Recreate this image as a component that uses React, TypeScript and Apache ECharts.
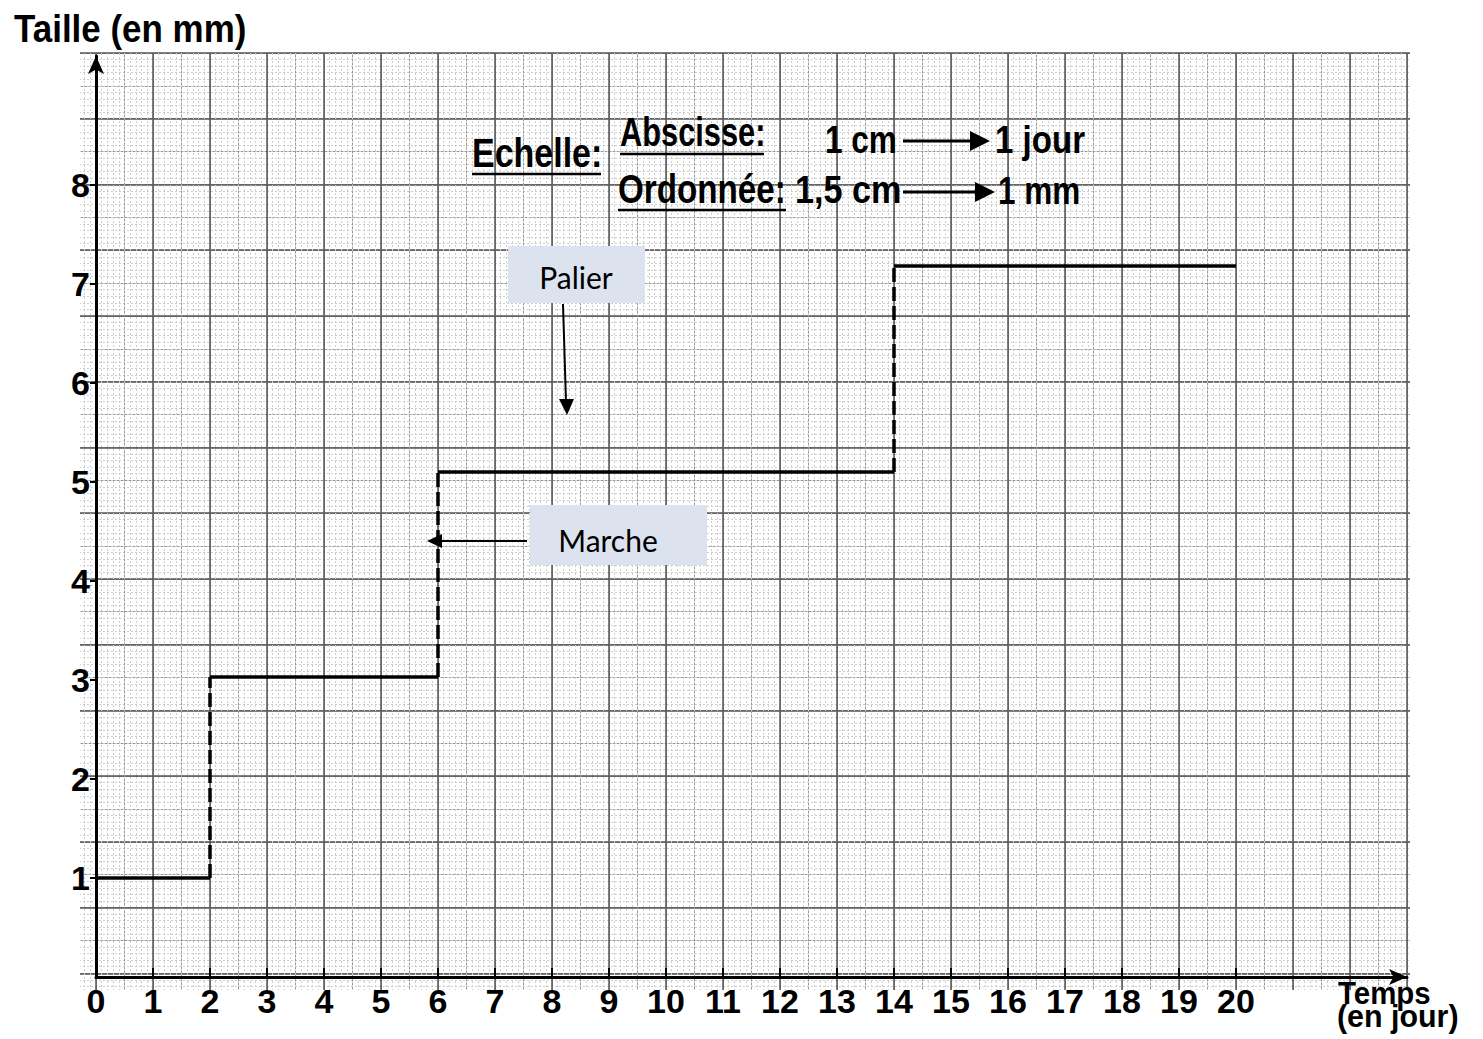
import React, { useEffect, useRef } from "react";
import * as echarts from "echarts";

// ---- data ----
const stepDays = [0, 2, 6, 14, 20];
const stepSizes = [1, 3.03, 5.1, 7.18];
const xTickValues = [0, 1, 2, 3, 4, 5, 6, 7, 8, 9, 10, 11, 12, 13, 14, 15, 16, 17, 18, 19, 20];
const yTickValues = [1, 2, 3, 4, 5, 6, 7, 8];

const FONT = "'Liberation Sans', Arial, sans-serif";
const CAL = "Lato, 'Open Sans', sans-serif";

function paperAxis(gridIndex: number, min: number, max: number, interval: number, color: string, width: number, minor: boolean) {
  return {
    gridIndex,
    type: "value",
    min,
    max,
    interval,
    axisLine: { show: false },
    axisTick: { show: false },
    axisLabel: { show: false },
    splitLine: { show: true, lineStyle: { color, width } },
    minorTick: { show: false, splitNumber: 10 },
    minorSplitLine: { show: minor, lineStyle: { color: "#cdcdcd", width: 1, type: [2, 2] } },
    z: 0,
  };
}

export default function App() {
  const ref = useRef<HTMLDivElement>(null);
  useEffect(() => {
    if (!ref.current) return;
    const chart = echarts.init(ref.current, null, { renderer: "svg" });

    const horiz = stepSizes.map((s, i) => ({ coords: [[stepDays[i], s], [stepDays[i + 1], s]] }));
    const vert = stepSizes.slice(1).map((s, i) => ({ coords: [[stepDays[i + 1], stepSizes[i]], [stepDays[i + 1], s]] }));

    const txt = (text: string, x: number, y: number, size: number, sx = 1, family = FONT, weight: any = "bold", align = "left") => ({
      type: "text",
      x,
      y,
      scaleX: sx,
      z: 6,
      style: { text, fontSize: size, fontWeight: weight, fontFamily: family, fill: "#000", align, verticalAlign: "middle" },
    });
    const ln = (x1: number, y1: number, x2: number, y2: number, w: number) => ({
      type: "line",
      z: 6,
      shape: { x1, y1, x2, y2 },
      style: { stroke: "#000", lineWidth: w },
    });
    const tri = (pts: number[][]) => ({ type: "polygon", z: 6, shape: { points: pts }, style: { fill: "#000" } });
    const rect = (x: number, y: number, w: number, h: number, fill: string, z: number) => ({
      type: "rect",
      z,
      shape: { x, y, width: w, height: h },
      style: { fill },
    });

    chart.setOption({
      animation: false,
      backgroundColor: "#ffffff",
      grid: [
        { left: 39, top: 53, width: 1425, height: 990 },
        { left: 96, top: 56, width: 1311, height: 921 },
      ],
      xAxis: [
        paperAxis(0, -1, 24, 0.5, "#9a9a9a", 1, false),
        paperAxis(0, -1, 24, 1, "#555555", 1.5, true),
        {
          gridIndex: 1,
          type: "value",
          min: 0,
          max: 23,
          interval: 1,
          z: 3,
          axisLine: { show: true, onZero: false, lineStyle: { color: "#000", width: 3 }, symbol: ["none", "arrow"], symbolSize: [12, 18] },
          axisTick: { show: true, customValues: xTickValues, inside: true, length: 9, lineStyle: { color: "#000", width: 2 } },
          axisLabel: { customValues: xTickValues, fontSize: 34, fontWeight: "bold", fontFamily: FONT, color: "#000", margin: 7 },
          splitLine: { show: false },
        },
      ],
      yAxis: [
        paperAxis(0, -1, 14, 0.5, "#9a9a9a", 1, false),
        paperAxis(0, -1, 14, 1, "#555555", 1.5, true),
        {
          gridIndex: 1,
          type: "value",
          min: 0,
          max: 9.3,
          interval: 1,
          z: 3,
          axisLine: { show: true, onZero: false, lineStyle: { color: "#000", width: 3 }, symbol: ["none", "arrow"], symbolSize: [12, 18] },
          axisTick: { show: true, customValues: yTickValues, length: 6, lineStyle: { color: "#000", width: 2 } },
          axisLabel: { customValues: yTickValues, fontSize: 34, fontWeight: "bold", fontFamily: FONT, color: "#000", margin: 6 },
          splitLine: { show: false },
        },
      ],
      series: [
        {
          type: "lines",
          coordinateSystem: "cartesian2d",
          xAxisIndex: 2,
          yAxisIndex: 2,
          z: 4,
          data: horiz,
          lineStyle: { color: "#000", width: 3.5, type: "solid", opacity: 1 },
        },
        {
          type: "lines",
          coordinateSystem: "cartesian2d",
          xAxisIndex: 2,
          yAxisIndex: 2,
          z: 4,
          data: vert,
          lineStyle: { color: "#000", width: 3.5, type: [14, 5], opacity: 1 },
        },
      ],
      graphic: [
        rect(0, 0, 80, 1039, "#fff", 1),
        rect(1410, 0, 73, 1039, "#fff", 1),
        rect(0, 990, 1483, 49, "#fff", 1),
        rect(0, 0, 1483, 50, "#fff", 1),
        // y axis name
        txt("Taille (en mm)", 14, 29, 38, 0.92),
        // scale legend
        txt("Echelle:", 472, 153, 40, 0.85),
        ln(472, 174, 601, 174, 2.5),
        txt("Abscisse:", 620, 133, 40, 0.77),
        ln(620, 154, 764, 154, 2.5),
        txt("1 cm", 825, 139, 38, 0.83),
        ln(903, 141, 975, 141, 3),
        tri([[970, 131], [990, 141], [970, 151]]),
        txt("1 jour", 995, 140, 38, 0.87),
        txt("Ordonnée:", 618, 189, 40, 0.83),
        ln(618, 210, 786, 210, 2.5),
        txt("1,5 cm", 795, 190, 38, 0.9),
        ln(903, 192, 980, 192, 3),
        tri([[975, 182], [995, 192], [975, 202]]),
        txt("1 mm", 998, 190, 38, 0.83),
        // annotations
        rect(508, 246, 137, 57, "#dce3ee", 5),
        txt("Palier", 576, 277, 30, 1, CAL, "normal", "center"),
        ln(563, 304, 566, 402, 2),
        tri([[559, 399], [567, 415], [574, 399]]),
        rect(530, 505, 177, 60, "#dce3ee", 5),
        txt("Marche", 608, 540, 30, 1, CAL, "normal", "center"),
        ln(527, 541, 440, 541, 2),
        tri([[442, 534], [427, 541], [442, 548]]),
        // x axis name
        txt("Temps", 1338, 993, 32, 0.92),
        txt("(en jour)", 1337, 1016, 32, 0.95),
      ],
    });
    return () => chart.dispose();
  }, []);
  return <div ref={ref} style={{ position: "fixed", left: 0, top: 0, width: 1483, height: 1039 }} />;
}
